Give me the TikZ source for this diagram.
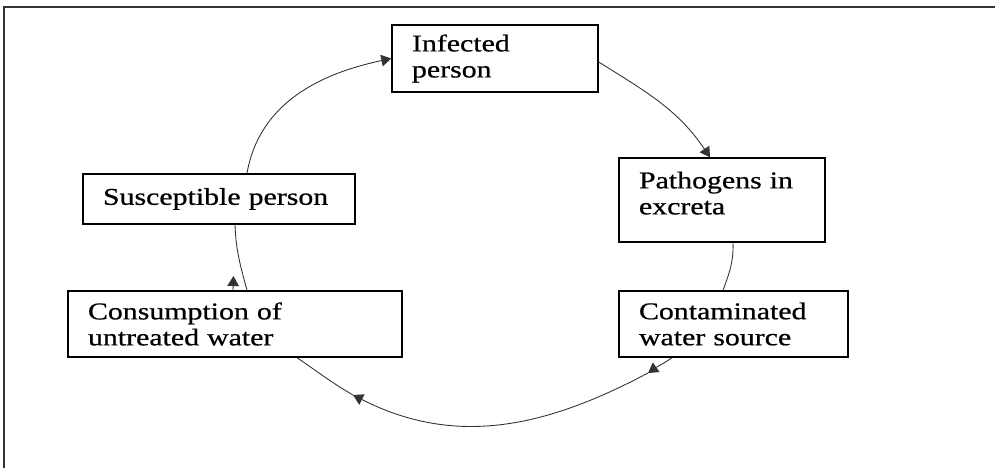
\documentclass[tikz,border=0pt]{standalone}
\usepackage{fontspec}
\setmainfont{Liberation Serif}[FakeStretch=1.24,FakeBold=0.7]
\usetikzlibrary{positioning,arrows.meta}

\begin{document}
\begin{tikzpicture}[
  font=\fontsize{13.7}{14.8}\selectfont,
  >={Triangle[length=2mm,width=2.3mm]},
  box/.style={draw,line width=0.8pt,align=left,inner xsep=0.4cm,inner ysep=2pt},
  link/.style={draw=black!80,line width=0.5pt},
  flow/.style={link,->},
  frame/.style={draw=black!80,line width=0.9pt},
]
\useasboundingbox (0,0) rectangle (19.9,-9.36);
\clip (0,0) rectangle (19.9,-9.36);
% outer frame (runs off the page at right and bottom)
\draw[frame] (0.08,-0.14) rectangle (21,-10);
% the five stages
\node[box,text width=3.32cm,minimum height=1.34cm] (inf)  at (9.90,-1.17)  {Infected\\person};
\node[box,text width=3.32cm,minimum height=1.68cm] (path) at (14.44,-4.00) {Pathogens in\\excreta\rule[-0.28cm]{0pt}{0pt}};
\node[box,text width=3.78cm,minimum height=1.32cm] (cont) at (14.67,-6.48) {Contaminated\\water source};
\node[box,text width=4.64cm,minimum height=1.00cm] (susc) at (4.38,-3.98)  {Susceptible person};
\node[box,text width=5.88cm,minimum height=1.32cm] (cons) at (4.70,-6.48)  {Consumption of\\untreated water};
% loose points on the lower part of the cycle
\coordinate (b1) at (12.96,-7.46);
\coordinate (b2) at (7.06,-7.90);
\coordinate (a1) at (4.67,-5.52);
% ---- cycle ----
\draw[flow] ([xshift=0.56cm]susc.north) to[out=80,in=192] (inf.west);
\draw[flow] ([yshift=-0.07cm]inf.east) to[out=-32,in=124] ([xshift=-0.24cm]path.north);
\path[link] ([xshift=0.22cm]path.south) to[out=-88,in=70] ([xshift=-0.21cm]cont.north);
\draw[flow] ([xshift=-1.23cm]cont.south) to[out=215,in=35] (b1);
\draw[flow] (b1) to[out=208,in=-27] (b2);
\path[link] (b2) to[out=150,in=-34] ([xshift=1.24cm]cons.south);
\draw[flow] ([xshift=-0.04cm]cons.north) -- (a1);
\path[link] ([xshift=0.24cm]cons.north) to[out=105,in=-88] ([xshift=0.32cm]susc.south);
\end{tikzpicture}
\end{document}
